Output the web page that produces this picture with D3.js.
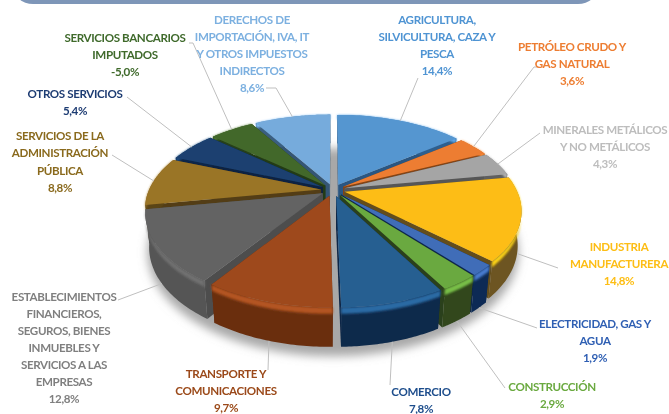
<!DOCTYPE html>
<meta charset="utf-8">
<style>
body{margin:0;background:#fff;}
text{font-family:Lato,"Open Sans",sans-serif;font-weight:700;font-size:11.6px;letter-spacing:-0.38px;text-anchor:middle;}
.leader{fill:none;stroke:#bfbfbf;stroke-width:1;}
</style>
<body>
<script src="https://d3js.org/d3.v7.min.js"></script>
<script>
var sectors=["AGRICULTURA, SILVICULTURA, CAZA Y PESCA","PETRÓLEO CRUDO Y GAS NATURAL","MINERALES METÁLICOS Y NO METÁLICOS","INDUSTRIA MANUFACTURERA","ELECTRICIDAD, GAS Y AGUA","CONSTRUCCIÓN","COMERCIO","TRANSPORTE Y COMUNICACIONES","ESTABLECIMIENTOS FINANCIEROS, SEGUROS, BIENES INMUEBLES Y SERVICIOS A LAS EMPRESAS","SERVICIOS DE LA ADMINISTRACIÓN PÚBLICA","OTROS SERVICIOS","SERVICIOS BANCARIOS IMPUTADOS","DERECHOS DE IMPORTACIÓN, IVA, IT Y OTROS IMPUESTOS INDIRECTOS"];
var shares=[14.4,3.6,4.3,14.8,1.9,2.9,7.8,9.7,12.8,8.8,5.4,-5.0,8.6];
var shareLabels=["14,4%","3,6%","4,3%","14,8%","1,9%","2,9%","7,8%","9,7%","12,8%","8,8%","5,4%","-5,0%","8,6%"];
var labelLines=[
 ["AGRICULTURA,","SILVICULTURA, CAZA Y","PESCA"],
 ["PETRÓLEO CRUDO  Y","GAS NATURAL"],
 ["MINERALES METÁLICOS","Y NO METÁLICOS"],
 ["INDUSTRIA","MANUFACTURERA"],
 ["ELECTRICIDAD, GAS Y","AGUA"],
 ["CONSTRUCCIÓN"],
 ["COMERCIO"],
 ["TRANSPORTE Y","COMUNICACIONES"],
 ["ESTABLECIMIENTOS","FINANCIEROS,","SEGUROS, BIENES","INMUEBLES Y","SERVICIOS A LAS","EMPRESAS"],
 ["SERVICIOS DE LA","ADMINISTRACIÓN","PÚBLICA"],
 ["OTROS SERVICIOS"],
 ["SERVICIOS BANCARIOS","IMPUTADOS"],
 ["DERECHOS DE","IMPORTACIÓN, IVA, IT","Y OTROS IMPUESTOS","INDIRECTOS"]
];
var topColors=["#5596d0","#ed7d31","#a5a5a5","#fdbd13","#3f6db8","#6aa93f","#255e91","#9e4a1f","#636363","#9a7428","#1a4170","#43682b","#76abdc"];
var sideColors=["#2e5f8e","#8f4a1a","#5f5f5f","#6d5420","#0f2c55","#30471c","#0f2a4c","#6a2f10","#555555","#5a4415","#0e2648","#27401a","#3a5f80"];
var textColors=["#4f94d3","#ed7d31","#bdbdbd","#fdbd13","#2f5fb3","#6aa93f","#1f4e8c","#9b4a1a","#7f7f7f","#8a6a1f","#1f3c73","#3f6a2c","#7cb0e0"];

// label placement: centre x, y of first line, line step, leader start
var labelX=[437,572,605,619,595,552,421,226,64,60,75,125,252];
var labelY=[24,51,134,251,328,391,396,378,301,140,98,42,24];
var lineStep=[17,17,17,17,17,17,17,17,17,17.3,17,17,17];
var leaderStart=[[418,78],[538,67],[540,133],[558,268],[537,328],[505,388],[390,385],[268,370],[118,300],[112,155],[127,97],[189,43],[266,88]];
var leaderElbow=[null,[534,67],null,null,null,null,null,null,null,null,null,[193,43],[276,88]];

var width=669,height=414;
var cx=333,cy=190,bx=172,ay=86,persp=0.204,shrink=0.02,depth=34,explode=0.07;

var svg=d3.select("body").append("svg").attr("width",width).attr("height",height).style("display","block");
var defs=svg.append("defs");
defs.append("filter").attr("id","shadow").attr("x","-20%").attr("y","-20%").attr("width","140%").attr("height","140%")
	.append("feGaussianBlur").attr("stdDeviation",5);
defs.append("filter").attr("id","soft").append("feGaussianBlur").attr("stdDeviation",0.9);
defs.append("filter").attr("id","raster").append("feGaussianBlur").attr("stdDeviation",0.35);

function project(px,py,z){
	var w=1-persp*py+shrink*z;
	return [cx+bx*px/w,cy+(ay*py+depth*z)/w];
}

var root=svg.append("g").attr("filter","url(#raster)");

// header band cut by the top of the picture
root.append("rect").attr("x",13).attr("y",-30).attr("width",585).attr("height",34).attr("rx",20).attr("fill","#7e96b8");

var line=d3.line();
var slices=d3.pie().sort(null).value(function(d){return Math.abs(d);})(shares);
slices.forEach(function(s,i){
	s.i=i;
	s.mid=(s.startAngle+s.endAngle)/2;
	s.ox=explode*Math.sin(s.mid);
	s.oy=-explode*Math.cos(s.mid);
});

function rim(s,a,z,r){
	r=r===undefined?1:r;
	return project(s.ox+r*Math.sin(a),s.oy-r*Math.cos(a),z);
}
function arcPoints(s,z){
	return d3.range(0,41).map(function(k){
		return rim(s,s.startAngle+(s.endAngle-s.startAngle)*k/40,z);
	});
}

// ground shadow
root.append("path")
	.attr("d",line(d3.range(0,121).map(function(k){
		var a=k/120*2*Math.PI;
		return project(1.07*Math.sin(a),0.03-1.07*Math.cos(a),1.12);
	})))
	.attr("fill","#a8a8a8").attr("filter","url(#shadow)");

var draw=slices.slice().sort(function(p,q){return -Math.cos(p.mid)-(-Math.cos(q.mid));});
draw.forEach(function(s){
	var g=root.append("g");
	var side=sideColors[s.i],top=topColors[s.i];
	var apex0=project(s.ox,s.oy,0),apex1=project(s.ox,s.oy,1);
	[s.startAngle,s.endAngle].forEach(function(a){
		g.append("path")
			.attr("d",line([apex0,rim(s,a,0),rim(s,a,1),apex1])+"Z")
			.attr("fill",d3.color(side).darker(0.25));
	});
	var t=arcPoints(s,0),b=arcPoints(s,1);
	g.append("path").attr("d",line(t.concat(b.slice().reverse()))+"Z").attr("fill",side);
	// bevel at the rim
	g.append("path")
		.attr("d",line(t.concat(arcPoints(s,0.16).reverse()))+"Z")
		.attr("fill",d3.color(top).brighter(0.35))
		.attr("filter","url(#soft)");
	g.append("path").attr("d",line([apex0].concat(t))+"Z").attr("fill",top);
});

// leader lines
slices.forEach(function(s){
	var front=-Math.cos(s.mid)>0.25;
	var end=rim(s,s.mid,front?1:0);
	var pts=[leaderStart[s.i]];
	if(leaderElbow[s.i]) pts.push(leaderElbow[s.i]);
	pts.push(end);
	root.append("path").attr("class","leader").attr("d",line(pts));
});

// labels
sectors.forEach(function(name,i){
	var lines=labelLines[i].concat([shareLabels[i]]);
	var txt=root.append("text").attr("fill",textColors[i]);
	lines.forEach(function(l,j){
		txt.append("tspan").attr("x",labelX[i]).attr("y",labelY[i]+j*lineStep[i]).text(l);
	});
});
</script>
</body>
</html>
